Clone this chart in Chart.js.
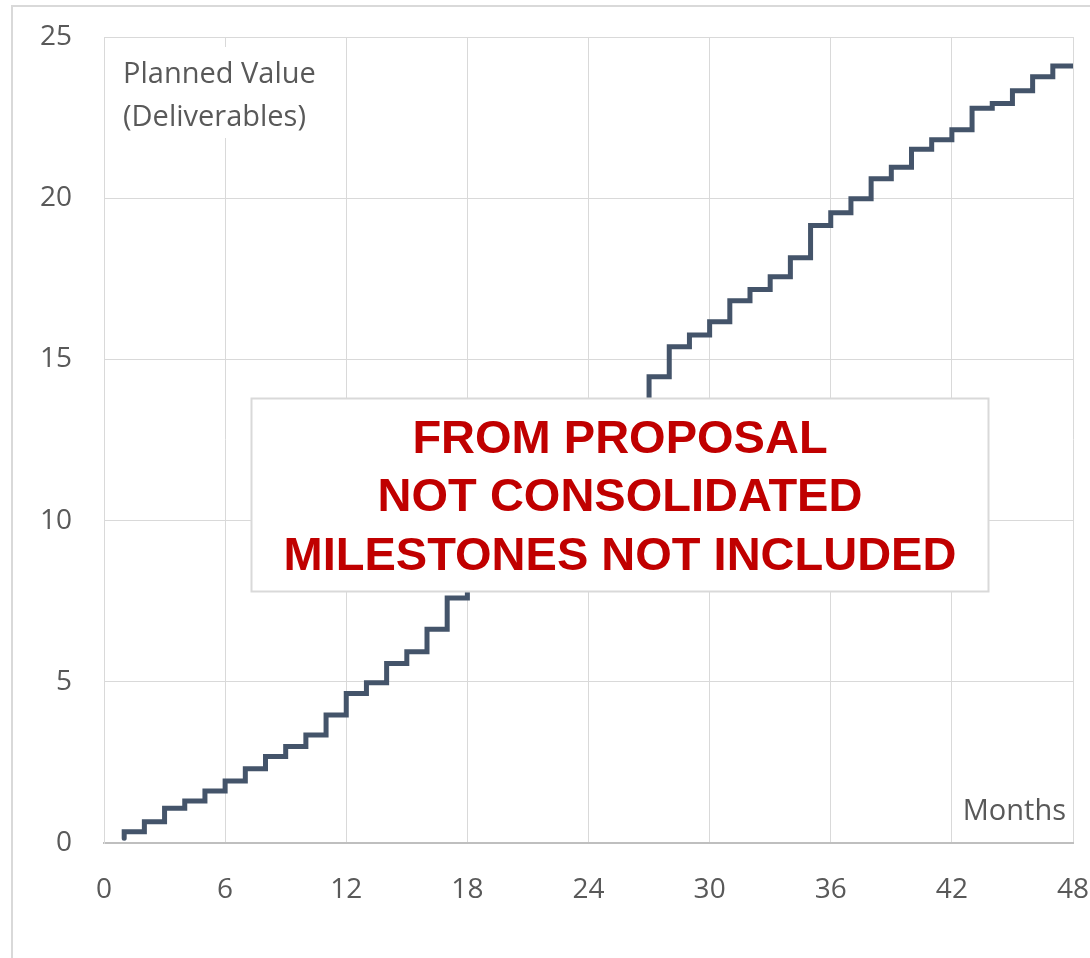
<!DOCTYPE html>
<html>
<head>
<meta charset="utf-8">
<title>Planned Value (Deliverables)</title>
<script src="https://cdn.jsdelivr.net/npm/chart.js@4/dist/chart.umd.min.js"></script>
<style>
  html, body { margin: 0; padding: 0; background: #ffffff; }
  #wrap { position: relative; width: 1090px; height: 958px; }
  canvas { display: block; }
</style>
</head>
<body>
<div id="wrap"><canvas id="pv" width="1090" height="958"></canvas></div>
<script>
// Project month at which each cumulative level is reached
const months = [
  1, 2, 3, 4, 5, 6, 7, 8, 9, 10, 11, 12,
  13, 14, 15, 16, 17, 18, 19, 20, 21, 22, 23, 24,
  25, 26, 27, 28, 29, 30, 31, 32, 33, 34, 35, 36,
  37, 38, 39, 40, 41, 42, 43, 44, 45, 46, 47, 48
];

// Cumulative planned deliverables (step levels)
const plannedValue = [
  0.15, 0.35, 0.66, 1.08, 1.30, 1.61, 1.92, 2.30, 2.68, 2.99, 3.35, 3.97,
  4.64, 4.97, 5.57, 5.93, 6.63, 7.60, 8.20, 8.90, 9.60, 10.20, 10.90, 11.60,
  12.30, 13.00, 13.70, 14.46, 15.39, 15.76, 16.17, 16.82, 17.17, 17.56, 18.15, 19.15,
  19.55, 19.98, 20.60, 20.96, 21.52, 21.81, 22.12, 22.79, 22.94, 23.33, 23.77, 24.10
];

// Axis tick values
const monthTicks = [0, 6, 12, 18, 24, 30, 36, 42, 48];
const valueTicks = [0, 5, 10, 15, 20, 25];

// Text placed on the chart
const valueTitle = ['Planned Value', '(Deliverables)'];
const monthTitle = 'Months';
const noticeLines = ['FROM PROPOSAL', 'NOT CONSOLIDATED', 'MILESTONES NOT INCLUDED'];

const GREY_TEXT = '#595959';
const GRID = '#d9d9d9';
const UI_FONT = '"Open Sans", "Noto Sans", sans-serif';

// Outer frame of the chart object
const framePlugin = {
  id: 'frame',
  beforeDraw(chart) {
    const ctx = chart.ctx;
    ctx.save();
    ctx.fillStyle = '#ffffff';
    ctx.fillRect(0, 0, chart.width, chart.height);
    ctx.strokeStyle = GRID;
    ctx.lineWidth = 2;
    ctx.strokeRect(12, 6, chart.width + 50, chart.height + 50);
    ctx.restore();
  }
};

// Axis titles inside the plot area and the notice box over the curve
const overlayPlugin = {
  id: 'overlay',
  afterDatasetsDraw(chart) {
    const ctx = chart.ctx;
    const area = chart.chartArea;
    ctx.save();

    // value axis title with white backing
    ctx.fillStyle = '#ffffff';
    ctx.fillRect(area.left + 14, area.top + 10, 222, 91);
    ctx.font = '29px ' + UI_FONT;
    ctx.fillStyle = GREY_TEXT;
    ctx.textAlign = 'left';
    ctx.textBaseline = 'alphabetic';
    ctx.fillText(valueTitle[0], area.left + 19, area.top + 46);
    ctx.fillText(valueTitle[1], area.left + 19, area.top + 89);

    // month axis title
    ctx.textAlign = 'right';
    ctx.fillText(monthTitle, area.right - 7, area.bottom - 23);

    // notice box
    const bx = 251.5, by = 398.5, bw = 737, bh = 193;
    ctx.fillStyle = '#ffffff';
    ctx.fillRect(bx, by, bw, bh);
    ctx.strokeStyle = GRID;
    ctx.lineWidth = 2;
    ctx.strokeRect(bx, by, bw, bh);

    ctx.font = 'bold 47px "Liberation Sans", Arial, sans-serif';
    ctx.fillStyle = '#c00000';
    ctx.textAlign = 'center';
    const cx = bx + bw / 2;
    const baselines = [453, 511, 570];
    noticeLines.forEach((t, i) => ctx.fillText(t, cx, baselines[i]));

    ctx.restore();
  }
};

new Chart(document.getElementById('pv'), {
  type: 'line',
  data: {
    datasets: [{
      label: 'Planned Value',
      data: months.map((m, i) => ({ x: m, y: plannedValue[i] })),
      stepped: 'after',
      borderColor: '#44546a',
      borderWidth: 5,
      borderCapStyle: 'round',
      borderJoinStyle: 'miter',
      pointRadius: 0,
      fill: false
    }]
  },
  options: {
    responsive: false,
    animation: false,
    layout: { padding: { left: 0, right: 17, top: 37, bottom: 0 } },
    plugins: {
      legend: { display: false },
      tooltip: { enabled: false },
      title: { display: false }
    },
    scales: {
      x: {
        type: 'linear',
        min: 0,
        max: 48,
        afterBuildTicks: (s) => { s.ticks = monthTicks.map(v => ({ value: v })); },
        afterFit: (s) => {
          s.height = 115;
          s.paddingLeft = 0;
          s.paddingRight = 0;
        },
        grid: { color: GRID, lineWidth: 1, drawTicks: false },
        border: { color: '#bfbfbf', width: 2 },
        ticks: {
          color: GREY_TEXT,
          font: { family: UI_FONT, size: 28 },
          padding: 30,
          maxRotation: 0,
          autoSkip: false
        }
      },
      y: {
        type: 'linear',
        min: 0,
        max: 25,
        afterBuildTicks: (s) => { s.ticks = valueTicks.map(v => ({ value: v })); },
        afterFit: (s) => {
          s.width = 104;
          s.paddingTop = 0;
          s.paddingBottom = 0;
        },
        grid: { color: GRID, lineWidth: 1, drawTicks: false },
        border: { color: GRID, width: 1 },
        ticks: {
          color: GREY_TEXT,
          font: { family: UI_FONT, size: 28 },
          padding: 32
        }
      }
    }
  },
  plugins: [framePlugin, overlayPlugin]
});
</script>
</body>
</html>
